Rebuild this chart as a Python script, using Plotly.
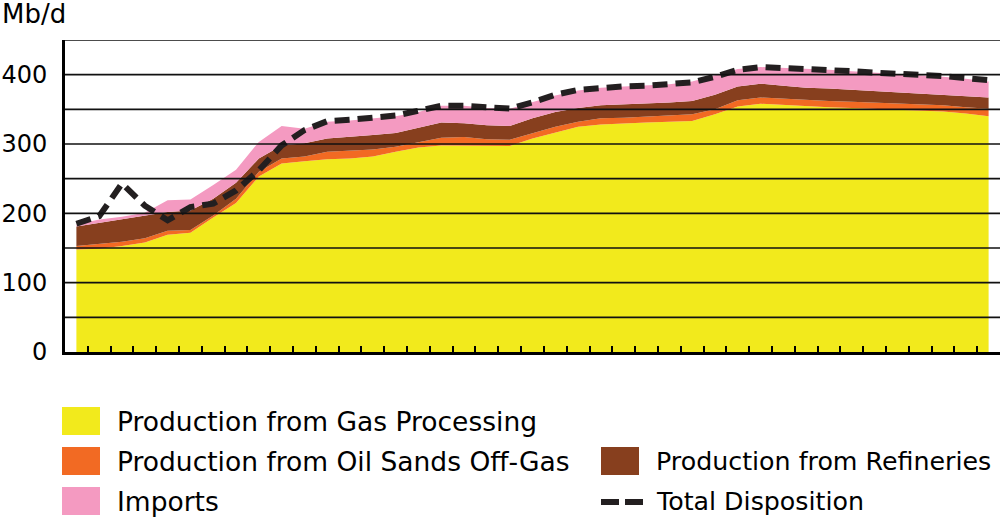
import plotly.graph_objects as go

# ---- data (Mb/d), one value per period ----
periods = list(range(41))
gas_processing = [148, 149, 153, 158, 169, 172, 194, 215, 253, 272, 275, 278, 279, 282, 289, 295,
                  298, 298, 297, 297, 308, 316, 325, 328, 330, 331, 332, 333, 343, 354, 358, 356,
                  354, 353, 352, 351, 350, 349, 347, 344, 340]
oil_sands_offgas = [5, 7, 6, 6, 6, 4, 3, 6, 7, 7, 7, 11, 11, 10, 7, 8,
                    11, 12, 10, 9, 8, 9, 7, 9, 8, 9, 9, 10, 7, 9, 9, 9,
                    9, 9, 9, 9, 9, 8, 9, 9, 11]
refineries = [28, 30, 32, 32, 27, 28, 24, 23, 19, 19, 19, 19, 20, 21, 20, 21,
              22, 20, 20, 20, 21, 21, 20, 19, 19, 18, 19, 19, 21, 20, 20, 19,
              18, 18, 17, 17, 16, 16, 15, 16, 16]
imports = [3, 5, 4, 5, 17, 16, 20, 19, 24, 28, 21, 24, 24, 24, 24, 22,
           24, 25, 25, 25, 23, 24, 25, 25, 26, 26, 26, 28, 28, 25, 24, 26,
           27, 27, 27, 26, 27, 27, 26, 25, 23]
total_disposition = [185, 196, 243, 211, 190, 209, 214, 233, 262, 298, 320, 333, 335, 338, 341, 348,
                     355, 355, 352, 351, 360, 371, 378, 381, 383, 384, 386, 389, 397, 407, 411, 410,
                     408, 407, 405, 403, 402, 400, 398, 395, 392]

y_ticks = [0, 100, 200, 300, 400]
y_tick_text = ["0", "100", "200", "300", "400"]
grid_levels = [50, 100, 150, 200, 250, 300, 350, 400, 450]

series = [
    ("Production from Gas Processing", gas_processing, "#F2EA1C"),
    ("Production from Oil Sands Off-Gas", oil_sands_offgas, "#F26A23"),
    ("Production from Refineries", refineries, "#873F1E"),
    ("Imports", imports, "#F49AC1"),
]
LINE_COLOR = "#231F20"
FONT = "DejaVu Sans"

fig = go.Figure()
for name, vals, col in series:
    fig.add_trace(go.Scatter(
        x=periods, y=vals, name=name, mode="lines", stackgroup="one",
        line=dict(width=0, color=col), fillcolor=col, hoverinfo="skip", showlegend=False))

fig.add_trace(go.Scatter(
    x=periods, y=total_disposition, name="Total Disposition", mode="lines",
    line=dict(color=LINE_COLOR, width=6, dash="15px,8px"), showlegend=False))

# layout geometry in pixels
W, H = 1002, 520
L, R, T, B = 65, 2, 40, 168
PW, PH = W - L - R, H - T - B


def xp(px):
    return (px - L) / PW


def yp(py):
    return (H - B - py) / PH


shapes = []
for g in grid_levels:
    shapes.append(dict(type="line", xref="paper", yref="y", x0=0, x1=1, y0=g, y1=g,
                       line=dict(color="#111111", width=1.6), layer="above"))

annotations = [dict(text="Mb/d", xref="paper", yref="paper", x=xp(0), y=yp(14),
                    xanchor="left", yanchor="middle", showarrow=False,
                    font=dict(family=FONT, size=26, color="black"))]

# manual legend
legend_items = [
    (series[0][0], series[0][2], 62, 421, "box", 26.5),
    (series[1][0], series[1][2], 62, 461, "box", 26.5),
    (series[2][0], series[2][2], 601, 461, "box", 25.3),
    (series[3][0], series[3][2], 62, 501, "box", 26.5),
    ("Total Disposition", LINE_COLOR, 601, 501, "dash", 25.3),
]
for name, col, x0, yc, kind, fs in legend_items:
    if kind == "box":
        shapes.append(dict(type="rect", xref="paper", yref="paper",
                           x0=xp(x0), x1=xp(x0 + 38), y0=yp(yc - 14), y1=yp(yc + 14),
                           fillcolor=col, line=dict(width=0)))
    else:
        shapes.append(dict(type="line", xref="paper", yref="paper",
                           x0=xp(x0), x1=xp(x0 + 42), y0=yp(yc + 1), y1=yp(yc + 1),
                           line=dict(color=col, width=6, dash="18px,6px")))
    annotations.append(dict(text=name, xref="paper", yref="paper", x=xp(x0 + 53), y=yp(yc),
                            xanchor="left", yanchor="middle", showarrow=False,
                            font=dict(family=FONT, size=fs, color="black")))

fig.update_layout(
    width=W, height=H,
    margin=dict(l=L, r=R, t=T, b=B, pad=0, autoexpand=False),
    paper_bgcolor="white", plot_bgcolor="white",
    showlegend=False,
    shapes=shapes, annotations=annotations,
    xaxis=dict(range=[-0.5, 40.5], showgrid=False, zeroline=False, automargin=False,
               showline=True, linecolor="black", linewidth=3,
               ticks="inside", ticklen=6, tickwidth=1.5, tickcolor="black",
               tickvals=[p + 0.5 for p in periods], showticklabels=False),
    yaxis=dict(range=[0, 450], showgrid=False, zeroline=False, automargin=False,
               showline=True, linecolor="black", linewidth=3,
               ticks="", tickvals=y_ticks, ticktext=y_tick_text,
               ticklabelstandoff=10,
               tickfont=dict(family=FONT, size=24, color="black")),
)

fig.write_html("out.html")
